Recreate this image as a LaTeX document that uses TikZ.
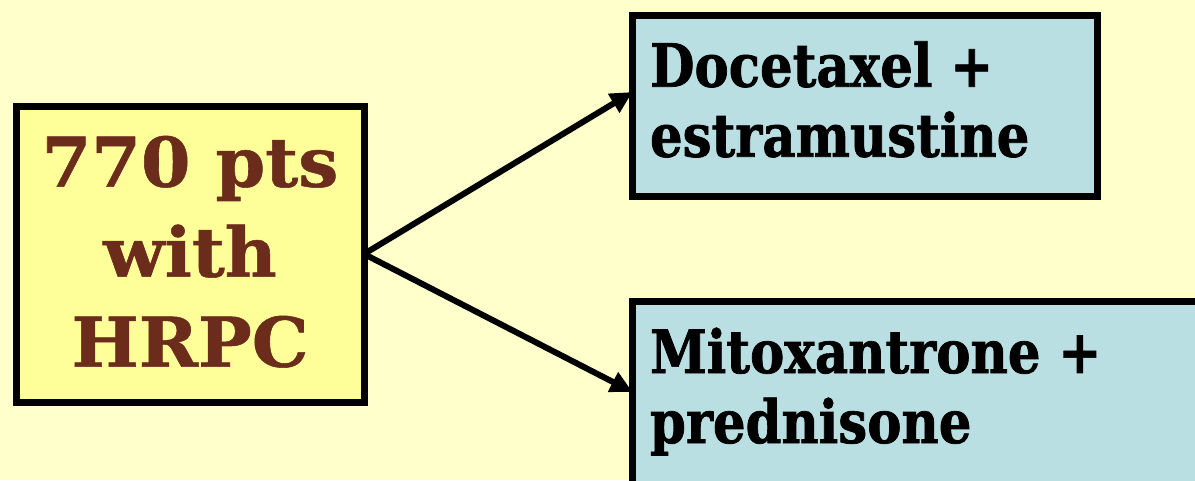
\documentclass[tikz,border=0pt]{standalone}
\usepackage{fontspec}
\setmainfont{DejaVu Serif}
\newfontfamily\lfontfam[FakeStretch=1.04,FakeBold=0.8]{DejaVu Serif}
\newfontfamily\rfontfam[FakeStretch=0.86,FakeBold=1.2]{DejaVu Serif}
\usetikzlibrary{arrows.meta}
\definecolor{bg}{RGB}{255,255,204}
\definecolor{ybox}{RGB}{255,255,153}
\definecolor{bbox}{RGB}{185,223,227}
\definecolor{brn}{RGB}{108,44,28}
\begin{document}
\begin{tikzpicture}[x=1pt,y=-1pt,
  box/.style={draw=black, line width=7pt, inner sep=0pt, outer sep=0pt, anchor=north west},
  lbl/.style={inner sep=0pt, outer sep=0pt},
  lfont/.style={font=\lfontfam\bfseries\fontsize{68.6}{90}\selectfont, text=brn},
  rfont/.style={font=\rfontfam\bfseries\fontsize{59.7}{70}\selectfont, text=black},
  arr/.style={line width=6pt, -{Triangle[length=22pt,width=21pt]}}]
\fill[bg] (0,0) rectangle (1195,480);
\useasboundingbox (0,0) rectangle (1195,480);
\begin{scope}
\clip (0,0) rectangle (1195,480);
\node[box, fill=ybox, minimum width=347.5pt, minimum height=296pt] (src) at (16.5,106) {};
\node[box, fill=bbox, minimum width=465pt, minimum height=181pt] (doc) at (632.5,15.5) {};
\node[box, fill=bbox, minimum width=700pt, minimum height=300pt] (mit) at (632.5,301.5) {};
\end{scope}
\node[lbl, lfont, align=center, anchor=base] (srct) at (190,366.7) {770 pts\\with\\HRPC};
\node[lbl, rfont, align=left, anchor=base west] (doct) at (650,156.7) {Docetaxel +\\estramustine};
\node[lbl, rfont, align=left, anchor=base west] (mitt) at (650,443) {Mitoxantrone +\\prednisone};
\draw[arr] (src.east) -- ([yshift=14pt]doc.west);
\draw[arr] (src.east) -- ([yshift=59.5pt]mit.west);
\end{tikzpicture}
\end{document}
